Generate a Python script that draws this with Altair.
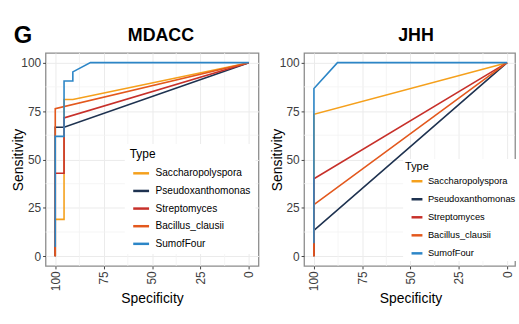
import altair as alt
import pandas as pd

types = ["Saccharopolyspora", "Pseudoxanthomonas", "Streptomyces", "Bacillus_clausii", "SumofFour"]
colors = ["#F5A01C", "#1E3250", "#C7302A", "#E3581D", "#2C86C7"]

# ---- MDACC curves (specificity, sensitivity) ----
mdacc_sacch_spec = [100, 100, 95.45, 95.45, 90.91, 0]
mdacc_sacch_sens = [0, 19.05, 19.05, 80.95, 80.95, 100]
mdacc_pseudo_spec = [100, 100, 95.45, 0]
mdacc_pseudo_sens = [0, 66.67, 66.67, 100]
mdacc_strep_spec = [100, 100, 95.45, 95.45, 0]
mdacc_strep_sens = [0, 42.86, 42.86, 71.43, 100]
mdacc_bac_spec = [100, 100, 0]
mdacc_bac_sens = [0, 76.19, 100]
mdacc_sum_spec = [100, 100, 95.45, 95.45, 90.91, 90.91, 81.82, 0]
mdacc_sum_sens = [4.76, 61.90, 61.90, 90.48, 90.48, 95.24, 100, 100]

# ---- JHH curves ----
jhh_sacch_spec = [100, 100, 0]
jhh_sacch_sens = [0, 73.33, 100]
jhh_pseudo_spec = [100, 100, 0]
jhh_pseudo_sens = [0, 13.33, 100]
jhh_strep_spec = [100, 100, 0]
jhh_strep_sens = [0, 40.0, 100]
jhh_bac_spec = [100, 100, 0]
jhh_bac_sens = [0, 26.67, 100]
jhh_sum_spec = [100, 100, 87.8, 0]
jhh_sum_sens = [6.67, 86.67, 100, 100]

axis_ticks = [0, 25, 50, 75, 100]
minor_grid = [12.5, 37.5, 62.5, 87.5]
panel_titles = ["MDACC", "JHH"]
panel_letter = "G"

FONT = "Liberation Sans"


def make_df(curves):
    rows = []
    for t, (sp, se) in zip(types, curves):
        for i, (a, b) in enumerate(zip(sp, se)):
            rows.append({"type": t, "spec": a, "sens": b, "idx": i})
    return pd.DataFrame(rows)


mdacc_df = make_df([
    (mdacc_sacch_spec, mdacc_sacch_sens),
    (mdacc_pseudo_spec, mdacc_pseudo_sens),
    (mdacc_strep_spec, mdacc_strep_sens),
    (mdacc_bac_spec, mdacc_bac_sens),
    (mdacc_sum_spec, mdacc_sum_sens),
])
jhh_df = make_df([
    (jhh_sacch_spec, jhh_sacch_sens),
    (jhh_pseudo_spec, jhh_pseudo_sens),
    (jhh_strep_spec, jhh_strep_sens),
    (jhh_bac_spec, jhh_bac_sens),
    (jhh_sum_spec, jhh_sum_sens),
])

H = 215
yscale = alt.Scale(domain=[-5, 105], nice=False, zero=False)

common_axis = dict(
    grid=True, gridColor="#EBEBEB", gridWidth=1, domain=False,
    tickColor="#444444", tickSize=3, tickWidth=1,
    labelFontSize=12, labelColor="#3d3d3d", labelFont=FONT, labelPadding=2,
    titleFont=FONT, titleFontSize=14, titleFontWeight="normal", titleColor="black",
)


def panel(df, title, W, xdom, title_x, leg, letter=None):
    xscale = alt.Scale(domain=xdom, reverse=True, nice=False, zero=False)
    x = alt.X("spec:Q", scale=xscale,
              axis=alt.Axis(values=axis_ticks[::-1], title="Specificity", labelAngle=270,
                            titleX=107.5, titleY=33, titleBaseline="middle", **common_axis))
    y = alt.Y("sens:Q", scale=yscale,
              axis=alt.Axis(values=axis_ticks, title="Sensitivity",
                            titleX=-27, titleY=H / 2, titleBaseline="middle", **common_axis))
    color = alt.Color("type:N", scale=alt.Scale(domain=types, range=colors),
                      legend=alt.Legend(title="Type", orient="none",
                                        legendX=leg["x"], legendY=leg["y"],
                                        fillColor="white", padding=leg["pad"],
                                        titleFont=FONT, titleFontSize=leg["tfs"],
                                        titleFontWeight="normal", titleColor="black",
                                        titlePadding=leg["tp"],
                                        labelFont=FONT, labelFontSize=leg["lfs"], labelColor="black",
                                        symbolType="stroke", symbolStrokeWidth=2.5,
                                        symbolSize=leg["ss"], symbolOffset=leg["so"],
                                        rowPadding=leg["rp"], labelOffset=leg["lo"]))

    vgrid = alt.Chart(pd.DataFrame({"spec": minor_grid})).mark_rule(
        color="#F2F2F2", strokeWidth=0.8).encode(x=x)
    hgrid = alt.Chart(pd.DataFrame({"sens": minor_grid})).mark_rule(
        color="#F2F2F2", strokeWidth=0.8).encode(y=y)

    layers = [vgrid, hgrid]
    for t in types:
        layers.append(
            alt.Chart(df).transform_filter(alt.datum.type == t)
            .mark_line(strokeWidth=1.6, strokeJoin="miter")
            .encode(x=x, y=y, color=color, order="idx:Q")
        )

    head = alt.Chart(pd.DataFrame({"label": [title]})).mark_text(
        font=FONT, fontSize=18, fontWeight="bold", align="center", baseline="alphabetic",
        color="black"
    ).encode(text="label:N", x=alt.value(title_x), y=alt.value(-12))
    layers.append(head)

    if letter:
        g = alt.Chart(pd.DataFrame({"label": [letter]})).mark_text(
            font=FONT, fontSize=24, fontWeight="bold", align="left", baseline="alphabetic",
            color="black"
        ).encode(text="label:N", x=alt.value(-32), y=alt.value(-10))
        layers.append(g)

    return alt.layer(*layers).properties(width=W, height=H)


left = panel(mdacc_df, panel_titles[0], 215, [-5, 105], 116.5,
             dict(x=80, y=92, pad=5, tfs=12, tp=3, lfs=10.2, ss=256, so=2, rp=2.8, lo=5),
             letter=panel_letter)
right = panel(jhh_df, panel_titles[1], 213, [-4.1, 105.1], 113,
              dict(x=100, y=107, pad=2, tfs=11, tp=2.5, lfs=9.4, ss=121, so=5, rp=6.2, lo=4))

chart = alt.hconcat(left, right, spacing=46, bounds="flush").resolve_scale(
    color="independent"
).properties(
    padding={"left": 11, "top": 22, "right": 0, "bottom": 0},
    background="white",
).configure_view(stroke="#8c8c8c", strokeWidth=1.3)

chart.save("out.html", embed_options={"renderer": "svg", "actions": False})
